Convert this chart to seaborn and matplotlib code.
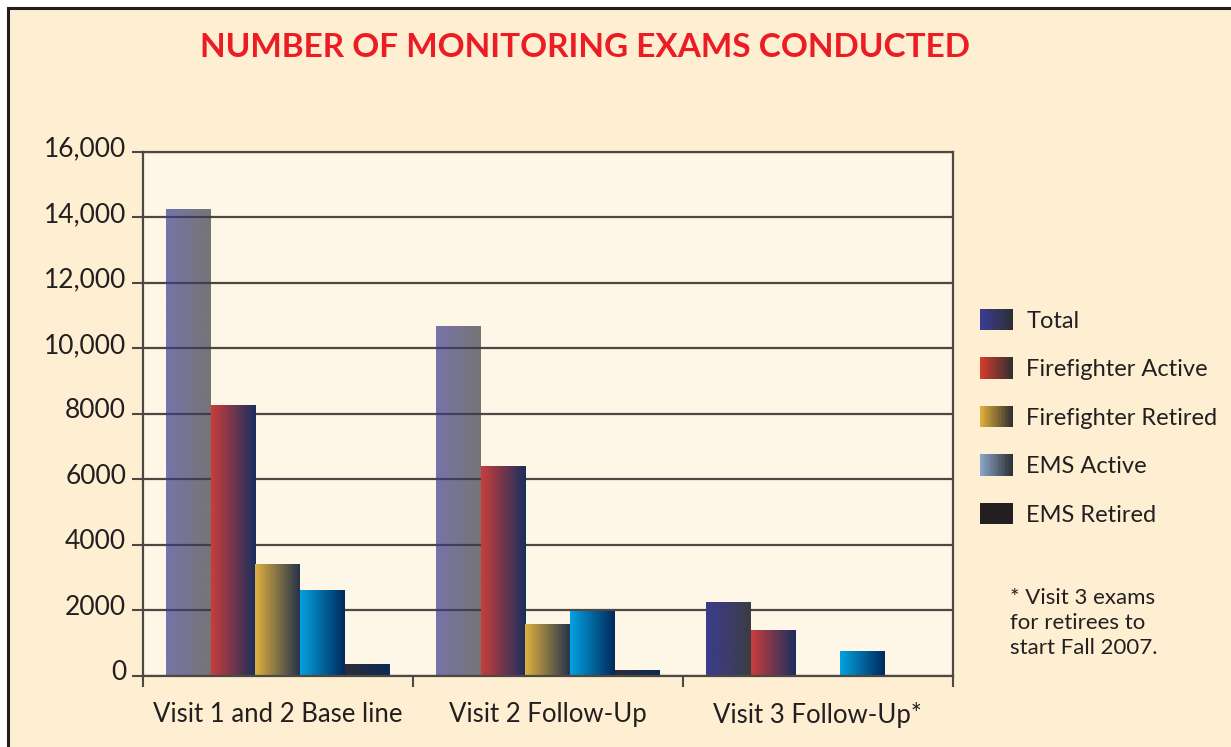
import numpy as np
import pandas as pd
import matplotlib
matplotlib.use("Agg")
import matplotlib.pyplot as plt
import seaborn as sns
from matplotlib.patches import Rectangle, Patch
from matplotlib.legend_handler import HandlerBase
from matplotlib.colors import to_rgb, LinearSegmentedColormap
from matplotlib.transforms import ScaledTranslation

# data
visits = ["Visit 1 and 2 Base line", "Visit 2 Follow-Up", "Visit 3 Follow-Up*"]
groups = ["Total", "Firefighter Active", "Firefighter Retired", "EMS Active", "EMS Retired"]
total = [14250, 10680, 2240]
ff_active = [8250, 6400, 1380]
ff_retired = [3400, 1570, 0]
ems_active = [2620, 1980, 750]
ems_retired = [360, 165, 0]
yticks = [0, 2000, 4000, 6000, 8000, 10000, 12000, 14000, 16000]
ytick_labels = ["0", "2000", "4000", "6000", "8000", "10,000", "12,000", "14,000", "16,000"]
title = "NUMBER OF MONITORING EXAMS CONDUCTED"
note = "* Visit 3 exams\nfor retirees to\nstart Fall 2007."

series = [total, ff_active, ff_retired, ems_active, ems_retired]
df = pd.DataFrame({
    "visit": visits * len(groups),
    "group": np.repeat(groups, len(visits)),
    "count": np.concatenate(series),
})

# left -> right gradient colours of the bars
bar_grad = {
    "Total": ("#3b3c8e", "#3c3c44"),
    "Firefighter Active": ("#c93d3c", "#1a2f5e"),
    "Firefighter Retired": ("#ddb040", "#27344a"),
    "EMS Active": ("#03a2e0", "#002a5c"),
    "EMS Retired": ("#2c2c38", "#0b2a56"),
}
# legend swatch gradients
leg_grad = {
    "Total": ("#3a3d95", "#2e2e33"),
    "Firefighter Active": ("#d43d2d", "#2e2e33"),
    "Firefighter Retired": ("#e0b03a", "#2e2e33"),
    "EMS Active": ("#8aa6c8", "#2e2e33"),
    "EMS Retired": ("#231f20", "#231f20"),
}

ink = "#231F20"
line = "#4d4843"

sns.set_theme(style="white")
plt.rcParams["font.family"] = ["Lato", "DejaVu Sans"]

fig = plt.figure(figsize=(12.31, 7.47), dpi=100, facecolor="white")
fig.add_artist(Rectangle((0.0065, -0.1), 1.2, 1.0893, transform=fig.transFigure,
                         facecolor="#FEEFD3", edgecolor=ink, lw=2.2, zorder=-10))

ax = fig.add_axes([0.116, 0.0955, 0.658, 0.701])
ax.set_facecolor("#FEF6E6")

sns.barplot(data=df, x="visit", y="count", hue="group", order=visits, hue_order=groups,
            width=0.83, saturation=1, legend=False, ax=ax)

# replace flat bars with horizontal gradients
for g, cont in zip(groups, ax.containers):
    cmap = LinearSegmentedColormap.from_list(g, bar_grad[g])
    for i, bar in enumerate(cont.patches):
        bar.set_visible(False)
        h = bar.get_height()
        if h <= 0:
            continue
        x0 = bar.get_x()
        alpha = 0.7 if (g == "Total" and i < 2) else 1.0
        ax.imshow(np.linspace(0, 1, 64)[np.newaxis, :], extent=[x0, x0 + bar.get_width(), 0, h],
                  cmap=cmap, aspect="auto", interpolation="bilinear", zorder=2, alpha=alpha)

ax.set_xlim(-0.5, 2.5)
ax.set_ylim(0, 16000)
ax.set_xlabel("")
ax.set_ylabel("")

ax.yaxis.grid(True, color=line, lw=1.6)
ax.set_axisbelow(True)
for s in ax.spines.values():
    s.set_visible(True)
    s.set_color(line)
    s.set_linewidth(1.6)

ax.set_yticks(yticks)
ax.set_yticklabels(ytick_labels)
ax.tick_params(axis="y", left=True, direction="out", length=8, width=1.5, color=line,
               labelsize=19, labelcolor=ink, pad=4)
for lab in ax.get_yticklabels():
    lab.set_transform(lab.get_transform() + ScaledTranslation(0, 4 / 72, fig.dpi_scale_trans))

ax.set_xticks(range(len(visits)))
ax.set_xticklabels(visits)
ax.set_xticks([-0.5, 0.5, 1.5, 2.5], minor=True)
ax.tick_params(axis="x", which="major", length=0, labelsize=18.5, labelcolor=ink, pad=19)
ax.tick_params(axis="x", which="minor", bottom=True, direction="out", length=8, width=1.5, color=line)

fig.text(0.4755, 0.937, title, ha="center", va="center", fontsize=24, fontweight="bold",
         color="#EC1C24")


class GradHandler(HandlerBase):
    def __init__(self, c0, c1, n=24):
        super().__init__()
        self.c0 = np.array(to_rgb(c0))
        self.c1 = np.array(to_rgb(c1))
        self.n = n

    def create_artists(self, legend, orig_handle, xdescent, ydescent, width, height, fontsize, trans):
        arts = []
        step = width / self.n
        for i in range(self.n):
            t = i / (self.n - 1)
            c = self.c0 * (1 - t) + self.c1 * t
            arts.append(Rectangle((-xdescent + i * step, -ydescent), step * 1.05, height,
                                  facecolor=c, edgecolor="none", transform=trans))
        return arts


handles = [Patch() for _ in groups]
hmap = {h: GradHandler(*leg_grad[g]) for h, g in zip(handles, groups)}
leg = fig.legend(handles, groups, handler_map=hmap, loc="upper left", bbox_to_anchor=(0.796, 0.587),
                 frameon=False, fontsize=17, handlelength=1.42, handleheight=1.05, handletextpad=0.55,
                 labelspacing=1.08, borderaxespad=0, borderpad=0)
for t in leg.get_texts():
    t.set_color(ink)

fig.text(0.8205, 0.213, note, ha="left", va="top", fontsize=16, color=ink, linespacing=1.33)

fig.savefig("out.png", dpi=100, facecolor=fig.get_facecolor())
